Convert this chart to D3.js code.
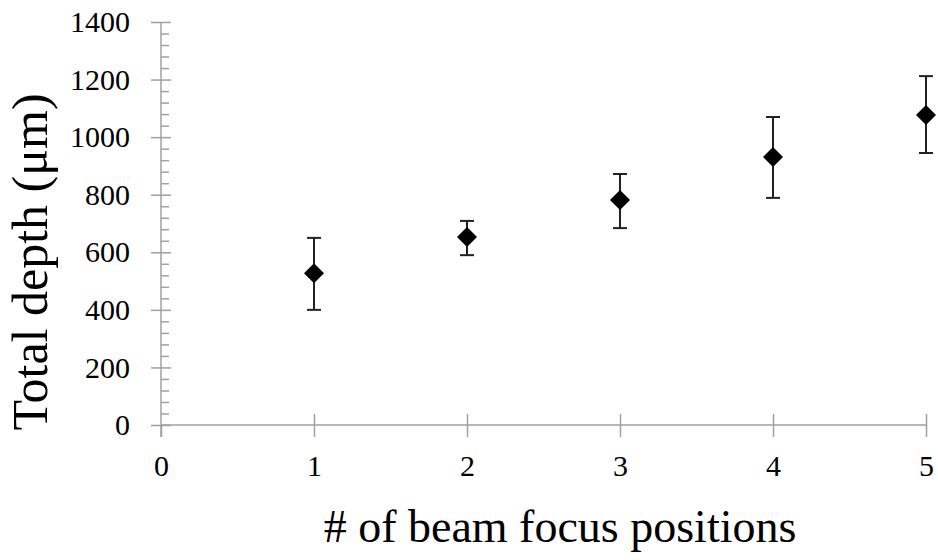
<!DOCTYPE html>
<html>
<head>
<meta charset="utf-8">
<script src="https://cdn.jsdelivr.net/npm/d3@7"></script>
<style>
    body { margin: 0; background: #fff; }
    svg { display: block; }
    .axis text { font-family: "Liberation Serif", "Times New Roman", serif; fill: #000; }
    .axis path, .axis line { stroke: #a0a0a0; stroke-width: 1.5; }
</style>
</head>
<body>
<svg id="chart"></svg>
<script>
// beam focus positions (x) and measured total depth (y), with error bar extents
const positions = [1, 2, 3, 4, 5];
const depth = [527, 653, 782, 931, 1077];
const errLow = [400, 590, 684, 789, 945];
const errHigh = [650, 709, 872, 1070, 1212];
const xTicks = [0, 1, 2, 3, 4, 5];
const yTicks = [0, 200, 400, 600, 800, 1000, 1200, 1400];

const width = 938;
const height = 560;
const margin = {left: 161, top: 22, right: 12, bottom: 135};

const svg = d3.select("#chart")
    .attr("width", width)
    .attr("height", height);

const x = d3.scaleLinear().domain([0, 5]).range([margin.left, 926]);
const y = d3.scaleLinear().domain([0, 1400]).range([425, margin.top]);

const data = positions.map(function (p, i) {
    return {x: p, y: depth[i], lo: errLow[i], hi: errHigh[i]};
});

// y axis: labels + left half of major ticks
const yAxis = svg.append("g")
    .attr("class", "axis")
    .attr("transform", `translate(${margin.left}, 0)`)
    .call(d3.axisLeft(y).tickValues(yTicks).tickFormat(d3.format("d"))
        .tickSize(10).tickSizeOuter(0).tickPadding(21));
yAxis.select(".domain").remove();
yAxis.selectAll("text").style("font-size", "30px");

// right half of major ticks
svg.append("g")
    .attr("class", "axis")
    .attr("transform", `translate(${margin.left}, 0)`)
    .call(d3.axisRight(y).tickValues(yTicks).tickSize(10).tickFormat(""))
    .select(".domain").remove();

// minor ticks
const minorTicks = d3.range(0, 1401, 40).filter(function (v) { return v % 200 !== 0; });
svg.append("g")
    .attr("class", "axis")
    .attr("transform", `translate(${margin.left}, 0)`)
    .call(d3.axisRight(y).tickValues(minorTicks).tickSize(8).tickFormat(""))
    .select(".domain").remove();

// y axis line (runs down past the x axis)
svg.append("line")
    .attr("x1", margin.left).attr("x2", margin.left)
    .attr("y1", y(1400)).attr("y2", 437)
    .style("stroke", "#a0a0a0").style("stroke-width", 1.5);

// x axis
const xAxis = svg.append("g")
    .attr("class", "axis")
    .attr("transform", `translate(0, ${y(0)})`)
    .call(d3.axisBottom(x).tickValues(xTicks).tickFormat(d3.format("d"))
        .tickSize(12).tickSizeOuter(0).tickPadding(18));
xAxis.select(".domain").attr("d", `M${x(0)},0H${x(5)}`);
xAxis.selectAll("text").style("font-size", "30px");

svg.append("g")
    .attr("class", "axis")
    .attr("transform", `translate(0, ${y(0)})`)
    .call(d3.axisTop(x).tickValues(xTicks.slice(1)).tickSize(11).tickFormat(""))
    .select(".domain").remove();

// error bars
const bars = svg.append("g")
    .selectAll("g")
    .data(data)
    .enter()
    .append("g")
    .style("stroke", "#222")
    .style("stroke-width", 2);

bars.append("line")
    .attr("x1", function (d) { return x(d.x); })
    .attr("x2", function (d) { return x(d.x); })
    .attr("y1", function (d) { return y(d.lo); })
    .attr("y2", function (d) { return y(d.hi); });

bars.append("line")
    .attr("x1", function (d) { return x(d.x) - 7; })
    .attr("x2", function (d) { return x(d.x) + 7; })
    .attr("y1", function (d) { return y(d.hi); })
    .attr("y2", function (d) { return y(d.hi); });

bars.append("line")
    .attr("x1", function (d) { return x(d.x) - 7; })
    .attr("x2", function (d) { return x(d.x) + 7; })
    .attr("y1", function (d) { return y(d.lo); })
    .attr("y2", function (d) { return y(d.lo); });

// diamond markers
svg.append("g")
    .selectAll("path")
    .data(data)
    .enter()
    .append("path")
    .attr("d", d3.symbol().type(d3.symbolSquare).size(200))
    .attr("transform", function (d) {
        return `translate(${x(d.x)}, ${y(d.y)}) rotate(45)`;
    })
    .style("fill", "#000");

// axis titles
svg.append("text")
    .attr("x", 560)
    .attr("y", 542)
    .style("text-anchor", "middle")
    .style("font-family", "Liberation Serif, Times New Roman, serif")
    .style("font-size", "46px")
    .text("# of beam focus positions");

svg.append("text")
    .attr("transform", `translate(47, 262) rotate(-90)`)
    .style("text-anchor", "middle")
    .style("font-family", "Liberation Serif, Times New Roman, serif")
    .style("font-size", "50px")
    .text("Total depth (μm)");
</script>
</body>
</html>
